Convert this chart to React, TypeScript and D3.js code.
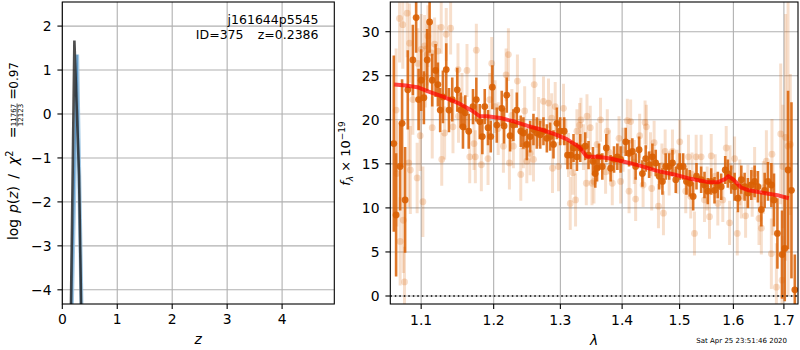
import * as d3 from "d3";

// ---- left panel: redshift PDF ----
const pzDarkZ = [0.155, 0.22, 0.305, 0.345];
const pzDarkLogP = [-4.6, 1.67, -1.4, -4.6];
const pzBlueZ = [0.17, 0.27, 0.352];
const pzBlueLogP = [-4.6, 1.35, -4.6];
const zTicks = [0, 1, 2, 3, 4];
const logpTicks = [-4, -3, -2, -1, 0, 1, 2];

// ---- right panel: spectrum ----
// strong (dark) points
const specWave = [
  1.0645, 1.0674, 1.0726, 1.0751, 1.079, 1.0825, 1.0891, 1.0934, 1.0966, 1.1,
  1.1036, 1.108, 1.1112, 1.1147, 1.1192, 1.1223, 1.1254, 1.1291, 1.1336, 1.1373,
  1.1418, 1.1487, 1.1534, 1.1566, 1.1598, 1.1646, 1.1706, 1.1753, 1.1801, 1.1838,
  1.1872, 1.1919, 1.1958, 1.1981, 1.2045, 1.2117, 1.2151, 1.219, 1.2239, 1.2287,
  1.2338, 1.2397, 1.2436, 1.2487, 1.2537, 1.2587, 1.2638, 1.2689, 1.2739, 1.2791,
  1.2842, 1.2893, 1.2946, 1.2997, 1.306, 1.3112, 1.3166, 1.3207, 1.3261, 1.3314,
  1.3394, 1.3447, 1.3519, 1.3556, 1.3585, 1.3617, 1.3671, 1.3737, 1.3808, 1.3865,
  1.392, 1.3975, 1.406, 1.4117, 1.4173, 1.4229, 1.4288, 1.4345, 1.4402, 1.4461,
  1.4518, 1.4576, 1.4636, 1.4694, 1.4752, 1.4813, 1.4872, 1.4931, 1.5003, 1.5064,
  1.5124, 1.5184, 1.5246, 1.5307, 1.5393, 1.5455, 1.5516, 1.558, 1.5642, 1.5704,
  1.5768, 1.5844, 1.5894, 1.5959, 1.6023, 1.6087, 1.6153, 1.6217, 1.6281, 1.6348,
  1.6413, 1.6478, 1.6546, 1.6612, 1.6678, 1.6746, 1.6799, 1.6868, 1.6962, 1.7017,
  1.7085, 1.7155, 1.7224,
];
const specFlux = [
  17.3, 9.2, 14.7, 19.6, 10.9, 23.4, 26.8, 31.6, 22.3, 24.5,
  22.5, 26.8, 31.1, 24.5, 25.6, 24.0, 21.1, 22.6, 25.7, 21.1,
  22.3, 23.4, 21.1, 19.2, 20.8, 18.7, 21.5, 22.3, 19.8, 18.1,
  21.5, 19.1, 18.1, 23.7, 19.4, 21.3, 19.3, 22.8, 18.2, 19.4,
  21.1, 18.7, 18.5, 17.2, 18.1, 18.9, 18.5, 18.3, 18.7, 17.9,
  18.1, 17.2, 19.6, 18.7, 18.7, 16.0, 16.0, 16.8, 15.8, 16.8,
  17.0, 16.0, 15.3, 13.9, 14.5, 15.8, 14.7, 16.8, 14.5, 15.5,
  15.8, 15.5, 17.5, 16.2, 16.4, 14.7, 16.6, 13.9, 15.6, 14.9,
  15.8, 15.1, 13.6, 13.0, 14.7, 14.7, 15.1, 13.2, 14.7, 14.7,
  13.0, 12.8, 11.3, 13.6, 13.2, 12.6, 11.9, 13.0, 12.0, 12.6,
  12.4, 14.3, 13.9, 13.2, 12.4, 11.1, 13.2, 12.4, 11.7, 12.6,
  13.0, 12.4, 9.8, 12.0, 13.0, 12.6, 10.9, 7.1, 4.7, 5.4,
  14.3, 12.0, 0.7,
];
const specErr = [
  10, 7, 5, 5, 6, 4.5, 4, 4, 3.5, 3.5,
  3, 3.5, 3.5, 3, 3, 2.5, 2.5, 3, 3, 2.5,
  2.5, 2.5, 2, 2.5, 2, 2, 2, 2.5, 2, 2,
  2, 2, 1.8, 2.5, 2, 2, 2, 2, 1.8, 1.8,
  2, 1.8, 1.8, 1.8, 1.8, 1.8, 1.8, 1.6, 1.6, 1.6,
  1.6, 1.6, 1.8, 1.6, 1.6, 1.6, 1.6, 1.6, 1.6, 1.6,
  1.6, 1.6, 1.6, 1.6, 1.5, 1.5, 1.5, 1.6, 1.5, 1.5,
  1.5, 1.5, 1.6, 1.5, 1.5, 1.5, 1.5, 1.5, 1.5, 1.5,
  1.5, 1.5, 1.5, 1.5, 1.5, 1.5, 1.5, 1.5, 1.5, 1.5,
  1.5, 1.5, 1.6, 1.5, 1.5, 1.5, 1.5, 1.5, 1.5, 1.5,
  1.5, 1.6, 1.6, 1.6, 1.6, 1.6, 1.6, 1.6, 1.7, 1.7,
  1.8, 1.8, 1.9, 2, 2.2, 2.5, 3, 4, 5, 6,
  9, 10, 4,
];

// faint (low-weight) points
const faintWave = [
  1.0674, 1.0683, 1.0718, 1.0726, 1.076, 1.0767, 1.0782, 1.0816, 1.0838, 1.0848,
  1.0858, 1.0891, 1.0947, 1.0956, 1.0987, 1.1, 1.1023, 1.1045, 1.1056, 1.108,
  1.1089, 1.1133, 1.1147, 1.1179, 1.1223, 1.1268, 1.1275, 1.1314, 1.1336, 1.1396,
  1.1428, 1.1497, 1.1504, 1.1552, 1.1622, 1.166, 1.172, 1.1739, 1.1753, 1.1824,
  1.1919, 1.1944, 1.1972, 1.202, 1.2141, 1.218, 1.2214, 1.2229, 1.2287, 1.2347,
  1.2397, 1.2436, 1.2487, 1.2537, 1.2587, 1.2598, 1.2739, 1.2816, 1.2878, 1.292,
  1.2971, 1.3049, 1.3128, 1.3155, 1.3198, 1.3239, 1.3261, 1.3303, 1.3325, 1.3411,
  1.3422, 1.3475, 1.3503, 1.3535, 1.3642, 1.3725, 1.3753, 1.3836, 1.3948, 1.3975,
  1.4088, 1.4117, 1.4144, 1.4229, 1.4298, 1.4357, 1.4391, 1.4414, 1.4506, 1.4548,
  1.4624, 1.4712, 1.4742, 1.4813, 1.4872, 1.5003, 1.5111, 1.516, 1.5202, 1.527,
  1.5301, 1.5393, 1.5455, 1.5548, 1.558, 1.5704, 1.5798, 1.5863, 1.5927, 1.6023,
  1.6075, 1.6153, 1.6236, 1.6281, 1.6413, 1.6499, 1.6546, 1.6646, 1.6746, 1.6758,
  1.6778, 1.6847, 1.6935, 1.6962, 1.6979, 1.7035, 1.7085, 1.7131,
  // points sitting close to the trend
  1.2065, 1.2265, 1.2455, 1.2665, 1.2865, 1.3085, 1.3365, 1.3585, 1.3785, 1.4015,
  1.4205, 1.4485, 1.4685, 1.4955, 1.5225, 1.5505, 1.5655, 1.5935, 1.6125, 1.6365,
  1.6585,
];
const faintFlux = [
  21.1, 13.9, 31.5, 6.2, 30.8, 8.6, 1.6, 32.1, 15.1, 28.7,
  14.3, 22.3, 13.4, 26.4, 18.2, 28.0, 10.7, 28.4, 24.9, 27.4,
  29.5, 27.6, 19.1, 28.6, 27.8, 30.5, 15.5, 18.5, 29.7, 30.4,
  19.2, 25.7, 20.4, 22.3, 25.6, 15.8, 17.3, 15.8, 27.9, 14.9,
  15.6, 22.3, 26.4, 21.5, 17.0, 25.1, 27.4, 15.1, 17.0, 24.4,
  13.8, 17.0, 15.3, 16.2, 15.5, 24.0, 22.1, 21.9, 14.5, 21.5,
  14.7, 21.3, 16.0, 10.5, 14.0, 10.9, 18.7, 19.4, 20.0, 12.8,
  20.4, 19.1, 12.8, 13.0, 20.0, 14.1, 18.7, 12.8, 17.9, 13.0,
  19.9, 11.9, 19.8, 11.0, 18.2, 12.6, 19.7, 19.2, 12.2, 17.4,
  10.2, 9.4, 16.4, 13.9, 16.4, 17.5, 11.9, 15.8, 11.3, 7.1,
  15.8, 15.8, 10.9, 9.0, 15.9, 10.5, 10.9, 16.8, 8.3, 15.6,
  7.1, 11.3, 9.1, 12.4, 13.9, 8.8, 7.7, 15.3, 4.8, 16.1,
  10.9, 1.0, 18.4, 1.8, 14.7, 18.0, 17.0, 17.2,
  19.0, 20.5, 21.0, 19.8, 20.2, 17.5, 16.9, 17.2, 16.3, 16.6,
  15.2, 16.1, 14.8, 14.1, 13.8, 12.2, 13.6, 14.6, 12.9, 11.8,
  12.3,
];
const faintErr = [
  7, 6, 5, 5, 5, 6, 4, 5, 5, 4.5,
  5, 4, 4, 4, 4, 4, 4, 3.5, 3.5, 3.5,
  3.5, 3.5, 3.5, 3, 3, 3, 3, 3, 3, 3,
  3, 3, 3, 3, 3, 3, 3, 3, 3, 3,
  3, 3, 3, 3, 3, 3, 3, 3, 2.5, 3,
  3, 2.5, 2.5, 2.5, 2.5, 3, 2.8, 2.8, 2.8, 2.8,
  2.8, 2.8, 2.5, 3, 2.5, 3, 2.5, 2.5, 2.5, 2.5,
  2.5, 2.5, 2.5, 2.5, 2.5, 2.5, 2.5, 2.5, 2.5, 2.5,
  2.5, 2.5, 2.5, 2.5, 2.5, 2.5, 2.5, 2.5, 2.5, 2.5,
  2.5, 2.5, 2.5, 2.5, 2.5, 2.5, 2.5, 2.5, 2.5, 2.5,
  2.5, 2.5, 2.5, 2.5, 2.5, 2.5, 2.5, 2.5, 2.5, 2.5,
  2.5, 2.5, 2.5, 2.5, 3, 3, 3, 3.5, 4, 4,
  4, 5, 8, 5, 7, 14, 17, 8,
  3, 3, 2.8, 2.8, 2.8, 2.6, 2.6, 2.5, 2.5, 2.5,
  2.5, 2.5, 2.5, 2.5, 2.5, 2.5, 2.5, 2.5, 2.6, 2.8,
  3,
];

// best-fit model
const modelWave = [
  1.065, 1.08, 1.095, 1.11, 1.13, 1.15, 1.17, 1.18, 1.19, 1.21,
  1.23, 1.25, 1.27, 1.29, 1.31, 1.33, 1.342, 1.36, 1.38, 1.4,
  1.43, 1.46, 1.49, 1.52, 1.55, 1.57, 1.585, 1.59, 1.6, 1.615,
  1.63, 1.66, 1.69, 1.71,
];
const modelFlux = [
  24.0, 23.9, 23.7, 23.2, 22.6, 21.9, 21.0, 20.4, 20.4, 20.2,
  19.8, 19.3, 18.9, 18.4, 17.8, 16.9, 15.8, 15.8, 15.6, 15.3,
  14.8, 14.2, 13.8, 13.3, 12.95, 12.9, 13.3, 13.6, 13.2, 12.3,
  12.0, 11.7, 11.4, 11.1,
];
const waveTicks = [1.1, 1.2, 1.3, 1.4, 1.5, 1.6, 1.7];
const fluxTicks = [0, 5, 10, 15, 20, 25, 30];

const FONT = "DejaVu Sans, sans-serif";
const ORANGE = "#d95f02";
const fmt = (v: number) => String(v).replace("-", "\u2212");

export default function App() {
  // left axes box
  const L = { x0: 62.3, x1: 334.3, y0: 2, y1: 304 };
  const zx = d3.scaleLinear().domain([0, 4.95]).range([L.x0, L.x1]);
  const py = d3.scaleLinear().domain([-4.323, 2.548]).range([L.y1, L.y0]);

  // right axes box
  const R = { x0: 390.3, x1: 798, y0: 2, y1: 304 };
  const wx = d3.scaleLog().domain([1.06, 1.729]).range([R.x0, R.x1]);
  const fy = d3.scaleLinear().domain([-0.908, 33.37]).range([R.y1, R.y0]);

  const pzLine = d3.line<[number, number]>().x((d) => zx(d[0])).y((d) => py(d[1]));
  const darkPath = pzLine(pzDarkZ.map((z, i) => [z, pzDarkLogP[i]]) as [number, number][]);
  const bluePath = pzLine(pzBlueZ.map((z, i) => [z, pzBlueLogP[i]]) as [number, number][]);

  const modelPath = d3
    .line<number>()
    .x((_, i) => wx(modelWave[i]))
    .y((d) => fy(d))(modelFlux);

  const tick = 4.9;

  return (
    <svg
      width={800}
      height={350}
      style={{ position: "absolute", left: 0, top: 0, background: "#fff" }}
      fontFamily={FONT}
    >
      <defs>
        <clipPath id="clipL">
          <rect x={L.x0} y={L.y0} width={L.x1 - L.x0} height={L.y1 - L.y0} />
        </clipPath>
        <clipPath id="clipR">
          <rect x={R.x0} y={R.y0} width={R.x1 - R.x0} height={R.y1 - R.y0} />
        </clipPath>
      </defs>
      <rect width={800} height={350} fill="#fff" />

      {/* ===== left panel ===== */}
      <g>
        {zTicks.map((t) => (
          <line key={"gz" + t} x1={zx(t)} x2={zx(t)} y1={L.y0} y2={L.y1} stroke="#b0b0b0" strokeWidth={1.1} />
        ))}
        {logpTicks.map((t) => (
          <line key={"gp" + t} x1={L.x0} x2={L.x1} y1={py(t)} y2={py(t)} stroke="#b0b0b0" strokeWidth={1.1} />
        ))}
        <g clipPath="url(#clipL)">
          <path d={bluePath!} fill="none" stroke="#8dbde0" strokeWidth={4} strokeOpacity={0.8} />
          <path d={bluePath!} fill="none" stroke="#3f7fb5" strokeWidth={1.2} strokeOpacity={0.7} />
          <path d={darkPath!} fill="none" stroke="#222" strokeWidth={2.6} strokeOpacity={0.8} />
        </g>
        <text x={318.5} y={24} fontSize={12.5} textAnchor="end">j161644p5545</text>
        <text x={243.5} y={39} fontSize={12.5} textAnchor="end">ID=375</text>
        <text x={318.5} y={39} fontSize={12.5} textAnchor="end">z=0.2386</text>
        <rect x={L.x0} y={L.y0} width={L.x1 - L.x0} height={L.y1 - L.y0} fill="none" stroke="#000" strokeWidth={1.1} />
        {zTicks.map((t) => (
          <g key={"tz" + t}>
            <line x1={zx(t)} x2={zx(t)} y1={L.y1} y2={L.y1 + tick} stroke="#000" strokeWidth={1.1} />
            <text x={zx(t)} y={324} fontSize={13.9} textAnchor="middle">{fmt(t)}</text>
          </g>
        ))}
        {logpTicks.map((t) => (
          <g key={"tp" + t}>
            <line x1={L.x0 - tick} x2={L.x0} y1={py(t)} y2={py(t)} stroke="#000" strokeWidth={1.1} />
            <text x={51.5} y={py(t) + 5} fontSize={13.9} textAnchor="end">{fmt(t)}</text>
          </g>
        ))}
        <text x={zx(2.47)} y={344} fontSize={13.9} fontStyle="italic" textAnchor="middle">z</text>
        {/* y label with fraction */}
        <g transform="translate(18.3,0) rotate(-90)" fontSize={13.9}>
          <text x={-240} y={0}>log</text>
          <text x={-213} y={0}>
            <tspan fontStyle="italic">p</tspan>(<tspan fontStyle="italic">z</tspan>)
          </text>
          <text x={-176.5} y={0} textAnchor="middle">/</text>
          <text x={-165} y={0}>
            <tspan fontStyle="italic">χ</tspan>
            <tspan fontSize={9.7} dy={-5.5}>2</tspan>
          </text>
          <text x={-132.5} y={0} textAnchor="middle">=</text>
          <text x={-115} y={-2} fontSize={7} textAnchor="middle">11767</text>
          <line x1={-126.5} x2={-103.5} y1={-1.2} y2={-1.2} stroke="#000" strokeWidth={0.7} />
          <text x={-115} y={4.3} fontSize={7} textAnchor="middle">12123</text>
          <text x={-94} y={0} textAnchor="middle">=</text>
          <text x={-62} y={0} fontSize={12} textAnchor="end">0.97</text>
        </g>
      </g>

      {/* ===== right panel ===== */}
      <g>
        {waveTicks.map((t) => (
          <line key={"gw" + t} x1={wx(t)} x2={wx(t)} y1={R.y0} y2={R.y1} stroke="#b0b0b0" strokeWidth={1.1} />
        ))}
        {fluxTicks.map((t) => (
          <line key={"gf" + t} x1={R.x0} x2={R.x1} y1={fy(t)} y2={fy(t)} stroke="#b0b0b0" strokeWidth={1.1} />
        ))}
        <g clipPath="url(#clipR)">
          {/* faint points */}
          {faintWave.map((w, i) => (
            <line
              key={"f" + i}
              x1={wx(w)}
              x2={wx(w)}
              y1={fy(faintFlux[i] - faintErr[i])}
              y2={fy(faintFlux[i] + faintErr[i])}
              stroke={ORANGE}
              strokeOpacity={0.2}
              strokeWidth={3}
            />
          ))}
          {faintWave.map((w, i) => (
            <circle key={"fc" + i} cx={wx(w)} cy={fy(faintFlux[i])} r={3.4} fill={ORANGE} fillOpacity={0.22} />
          ))}
          {/* strong points */}
          {specWave.map((w, i) => (
            <line
              key={"s" + i}
              x1={wx(w)}
              x2={wx(w)}
              y1={fy(specFlux[i] - specErr[i])}
              y2={fy(specFlux[i] + specErr[i])}
              stroke={ORANGE}
              strokeOpacity={0.85}
              strokeWidth={2.6}
            />
          ))}
          {specWave.map((w, i) => (
            <circle key={"sc" + i} cx={wx(w)} cy={fy(specFlux[i])} r={3.4} fill={ORANGE} fillOpacity={0.9} />
          ))}
          <path d={modelPath!} fill="none" stroke="red" strokeWidth={4} strokeOpacity={0.7} strokeLinejoin="round" />
          <line x1={R.x0} x2={R.x1} y1={fy(0)} y2={fy(0)} stroke="#000" strokeWidth={1.5} strokeDasharray="1.5,3" />
        </g>
        <rect x={R.x0} y={R.y0} width={R.x1 - R.x0} height={R.y1 - R.y0} fill="none" stroke="#000" strokeWidth={1.1} />
        {waveTicks.map((t) => (
          <g key={"tw" + t}>
            <line x1={wx(t)} x2={wx(t)} y1={R.y1} y2={R.y1 + tick} stroke="#000" strokeWidth={1.1} />
            <text x={wx(t)} y={325} fontSize={13.9} textAnchor="middle">{t.toFixed(1)}</text>
          </g>
        ))}
        {fluxTicks.map((t) => (
          <g key={"tf" + t}>
            <line x1={R.x0 - tick} x2={R.x0} y1={fy(t)} y2={fy(t)} stroke="#000" strokeWidth={1.1} />
            <text x={379.5} y={fy(t) + 5} fontSize={13.9} textAnchor="end">{fmt(t)}</text>
          </g>
        ))}
        <text x={594} y={345} fontSize={13.9} fontStyle="italic" textAnchor="middle">λ</text>
        <g transform="translate(350,153.5) rotate(-90)">
          <text textAnchor="middle" fontSize={13}>
            <tspan fontStyle="italic">f</tspan>
            <tspan fontSize={9} fontStyle="italic" dy={3}>λ</tspan>
            <tspan dy={-3}> × 10</tspan>
            <tspan fontSize={9} dy={-5.5}>−19</tspan>
          </text>
        </g>
        <text x={787} y={343} fontSize={7} textAnchor="end">Sat Apr 25 23:51:46 2020</text>
      </g>
    </svg>
  );
}
